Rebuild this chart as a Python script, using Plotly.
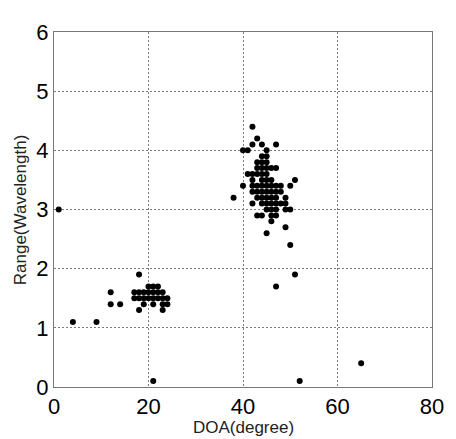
import plotly.graph_objects as go

# Estimated points (DOA in degrees, Range in wavelengths)
doa = [
    # right cluster
    42, 43, 42, 44, 47, 40, 41, 45, 44, 45, 43, 44, 45,
    43, 44, 45, 46, 47, 41, 42, 43, 44, 45,
    42, 44, 45, 46, 51,
    40, 42, 43, 44, 45, 46, 47, 48, 50,
    42, 43, 44, 45, 46, 47, 48,
    38, 43, 44, 45, 46, 47, 49,
    42, 44, 45, 46, 47, 48, 49,
    45, 46, 47, 49, 50,
    43, 44, 46, 47,
    46, 49, 45, 50, 51, 47,
    # left cluster
    18, 20, 21, 22,
    12, 17, 18, 19, 20, 21, 22, 23,
    17, 18, 19, 20, 21, 22, 23, 24,
    12, 14, 19, 21, 23, 24,
    18, 23,
    # outliers
    4, 9, 21, 1, 52, 65,
]
rng = [
    4.4, 4.2, 4.1, 4.1, 4.1, 4.0, 4.0, 4.0, 3.9, 3.9, 3.8, 3.8, 3.8,
    3.7, 3.7, 3.7, 3.7, 3.7, 3.6, 3.6, 3.6, 3.6, 3.6,
    3.5, 3.5, 3.5, 3.5, 3.5,
    3.4, 3.4, 3.4, 3.4, 3.4, 3.4, 3.4, 3.4, 3.4,
    3.3, 3.3, 3.3, 3.3, 3.3, 3.3, 3.3,
    3.2, 3.2, 3.2, 3.2, 3.2, 3.2, 3.2,
    3.1, 3.1, 3.1, 3.1, 3.1, 3.1, 3.1,
    3.0, 3.0, 3.0, 3.0, 3.0,
    2.9, 2.9, 2.9, 2.9,
    2.8, 2.7, 2.6, 2.4, 1.9, 1.7,
    1.9, 1.7, 1.7, 1.7,
    1.6, 1.6, 1.6, 1.6, 1.6, 1.6, 1.6, 1.6,
    1.5, 1.5, 1.5, 1.5, 1.5, 1.5, 1.5, 1.5,
    1.4, 1.4, 1.4, 1.4, 1.4, 1.4,
    1.3, 1.3,
    1.1, 1.1, 0.1, 3.0, 0.1, 0.4,
]

x_ticks = [0, 20, 40, 60, 80]
y_ticks = [0, 1, 2, 3, 4, 5, 6]
x_title = "DOA(degree)"
y_title = "Range(Wavelength)"

fig = go.Figure(go.Scatter(
    x=doa, y=rng, mode="markers",
    marker=dict(color="black", size=6),
    cliponaxis=False,
))

axis_common = dict(
    showgrid=True, gridcolor="#7a7a7a", griddash="2px,2px", gridwidth=1,
    showline=True, linecolor="#777777", linewidth=1, mirror=True,
    ticks="", zeroline=False,
    tickfont=dict(family="Liberation Sans, Arial", size=22, color="black"),
)

# the page body has an 8px default margin, so the figure is sized to compensate
fig.update_layout(
    width=448, height=431,
    margin=dict(l=46, r=15, t=13, b=52),
    paper_bgcolor="white", plot_bgcolor="white",
    showlegend=False,
    xaxis=dict(range=[0, 80], tickvals=x_ticks, **axis_common),
    yaxis=dict(range=[0, 6], tickvals=y_ticks, **axis_common),
    annotations=[
        dict(text=x_title, xref="paper", yref="paper", x=0.5, y=-0.115,
             xanchor="center", yanchor="middle", showarrow=False,
             font=dict(family="Liberation Sans, Arial", size=17, color="#222222")),
        dict(text=y_title, xref="paper", yref="paper", x=-0.088, y=0.5,
             xanchor="center", yanchor="middle", showarrow=False, textangle=-90,
             font=dict(family="Liberation Sans, Arial", size=17, color="#222222")),
    ],
)

fig.write_html("out.html")
